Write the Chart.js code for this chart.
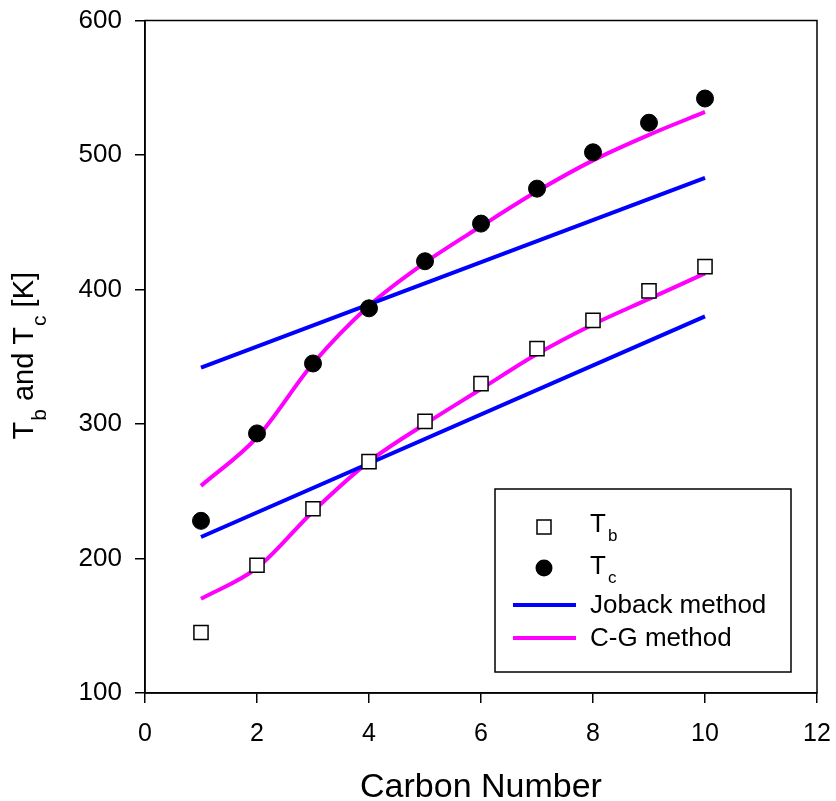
<!DOCTYPE html>
<html>
<head>
<meta charset="utf-8">
<script src="https://cdn.jsdelivr.net/npm/chart.js@4/dist/chart.umd.min.js"></script>
<style>
  body { margin: 0; background: #fff; }
  #wrap { width: 836px; height: 801px; }
</style>
</head>
<body>
<div id="wrap"><canvas id="myChart" width="836" height="801"></canvas></div>
<script>
// carbon number
const carbon = [1, 2, 3, 4, 5, 6, 7, 8, 9, 10];
// experimental values
const tbExp = [145, 195, 237, 272, 302, 330, 356, 377, 399, 417];
const tcExp = [228, 293, 345, 386, 421, 449, 475, 502, 524, 542];
// Joback method (straight lines, end points)
const jobackX = [1, 10];
const jobackTb = [216, 380];
const jobackTc = [342, 483];
// C-G method
const cgTb = [170, 193, 235, 272, 300, 326, 352, 374, 393, 412];
const cgTc = [254, 290, 345, 388, 420, 447, 473, 496, 515, 532];

const FONT = '"Liberation Sans", Arial, sans-serif';

const pts = (xs, ys) => xs.map((x, i) => ({ x: x, y: ys[i] }));

const lineDs = (label, data, color, smooth) => ({
  label: label,
  data: data,
  borderColor: color,
  backgroundColor: color,
  borderWidth: 4,
  pointRadius: 0,
  tension: smooth ? 0.4 : 0,
  cubicInterpolationMode: smooth ? 'monotone' : 'default',
  showLine: true,
  order: 2,
});

// frame, axis titles and legend
const extras = {
  id: 'extras',
  afterDraw(chart) {
    const { ctx, chartArea: a } = chart;
    ctx.save();
    ctx.strokeStyle = '#000';
    ctx.lineWidth = 1.5;
    ctx.strokeRect(a.left, a.top, a.right - a.left, a.bottom - a.top);

    // x title
    ctx.fillStyle = '#000';
    ctx.font = '34px ' + FONT;
    ctx.textAlign = 'center';
    ctx.textBaseline = 'alphabetic';
    ctx.fillText('Carbon Number', (a.left + a.right) / 2, a.bottom + 104);

    // y title with subscripts
    const parts = [['T', 0], ['b', 1], [' and T', 0], ['c', 1], [' [K]', 0]];
    const big = '29px ' + FONT, small = '21px ' + FONT;
    let w = 0;
    parts.forEach(p => { ctx.font = p[1] ? small : big; w += ctx.measureText(p[0]).width; });
    ctx.translate(33, (a.top + a.bottom) / 2);
    ctx.rotate(-Math.PI / 2);
    ctx.textAlign = 'left';
    let cx = -w / 2;
    parts.forEach(p => {
      ctx.font = p[1] ? small : big;
      ctx.fillText(p[0], cx + (p[1] ? 1 : 0), p[1] ? 13 : 0);
      cx += ctx.measureText(p[0]).width + (p[1] ? 1 : 0);
    });
    ctx.setTransform(1, 0, 0, 1, 0, 0);

    // legend
    const L = a.right - 322, T = a.bottom - 204, R = a.right - 26, B = a.bottom - 21;
    ctx.lineWidth = 1.5;
    ctx.strokeStyle = '#000';
    ctx.strokeRect(L, T, R - L, B - T);
    const mx = L + 49, tx = L + 95;
    // square
    ctx.fillStyle = '#fff';
    ctx.fillRect(mx - 7, T + 31, 14, 14);
    ctx.strokeRect(mx - 7, T + 31, 14, 14);
    // circle
    ctx.fillStyle = '#000';
    ctx.beginPath();
    ctx.arc(mx, T + 79, 8.5, 0, Math.PI * 2);
    ctx.fill();
    // lines
    ctx.lineWidth = 4;
    ctx.strokeStyle = '#0000ff';
    ctx.beginPath(); ctx.moveTo(L + 18, T + 116); ctx.lineTo(L + 81, T + 116); ctx.stroke();
    ctx.strokeStyle = '#ff00ff';
    ctx.beginPath(); ctx.moveTo(L + 18, T + 149); ctx.lineTo(L + 81, T + 149); ctx.stroke();
    // texts
    ctx.fillStyle = '#000';
    ctx.textAlign = 'left';
    const sub = (main, s, y) => {
      ctx.font = '26px ' + FONT;
      ctx.fillText(main, tx, y);
      const mw = ctx.measureText(main).width;
      ctx.font = '17px ' + FONT;
      ctx.fillText(s, tx + mw + 2, y + 9);
    };
    sub('T', 'b', T + 43);
    sub('T', 'c', T + 85);
    ctx.font = '26px ' + FONT;
    ctx.fillText('Joback method', tx, T + 124);
    ctx.fillText('C-G method', tx, T + 157);
    ctx.restore();
  },
};

const config = {
  type: 'scatter',
  data: {
    datasets: [
      {
        label: 'Tb',
        data: pts(carbon, tbExp),
        pointStyle: 'rect',
        pointRadius: 10,
        pointHoverRadius: 10,
        pointBackgroundColor: '#fff',
        pointBorderColor: '#000',
        pointBorderWidth: 1.5,
        showLine: false,
        order: 0,
      },
      {
        label: 'Tc',
        data: pts(carbon, tcExp),
        pointStyle: 'circle',
        pointRadius: 8.5,
        pointHoverRadius: 8.5,
        pointBackgroundColor: '#000',
        pointBorderColor: '#000',
        pointBorderWidth: 1,
        showLine: false,
        order: 0,
      },
      lineDs('Joback Tb', pts(jobackX, jobackTb), '#0000ff', false),
      lineDs('Joback Tc', pts(jobackX, jobackTc), '#0000ff', false),
      lineDs('C-G Tb', pts(carbon, cgTb), '#ff00ff', true),
      lineDs('C-G Tc', pts(carbon, cgTc), '#ff00ff', true),
    ],
  },
  options: {
    responsive: false,
    animation: false,
    layout: { padding: { top: 20.5, right: 19, left: 0, bottom: 0 } },
    plugins: {
      legend: { display: false },
      tooltip: { enabled: false },
    },
    scales: {
      x: {
        type: 'linear',
        min: 0,
        max: 12,
        ticks: { stepSize: 2, color: '#000', font: { family: FONT, size: 25 }, padding: 16 },
        grid: { display: true, drawOnChartArea: false, drawTicks: true, tickLength: 10, color: '#000', lineWidth: 1.5 },
        border: { display: true, color: '#000', width: 1.5 },
        afterFit(scale) {
          scale.height = 108;
          scale.paddingLeft = 0;
          scale.paddingRight = 0;
        },
      },
      y: {
        min: 100,
        max: 600,
        ticks: { stepSize: 100, color: '#000', font: { family: FONT, size: 26 }, padding: 13 },
        grid: { display: true, drawOnChartArea: false, drawTicks: true, tickLength: 10, color: '#000', lineWidth: 1.5 },
        border: { display: true, color: '#000', width: 1.5 },
        afterFit(scale) {
          scale.width = 145;
          scale.paddingTop = 0;
          scale.paddingBottom = 0;
        },
      },
    },
  },
  plugins: [extras],
};

const myChart = new Chart(document.getElementById('myChart'), config);
</script>
</body>
</html>
